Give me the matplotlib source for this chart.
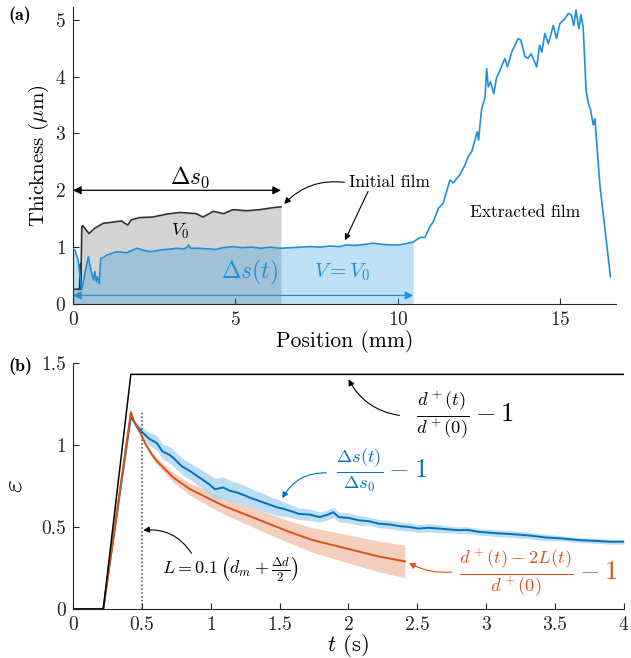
import matplotlib
matplotlib.use("Agg")
import matplotlib.pyplot as plt
import numpy as np

plt.rcParams["font.family"] = "serif"
plt.rcParams["font.serif"] = ["cmr10", "DejaVu Serif"]
plt.rcParams["mathtext.fontset"] = "cm"
plt.rcParams["axes.formatter.use_mathtext"] = True

# ---- panel (a): thickness profiles ----
film_x = [0.0, 0.06, 0.16, 0.27, 0.37, 0.47, 0.55, 0.63, 0.67, 0.72,
          0.75, 0.81, 0.85, 0.95, 1.03, 1.15, 1.34, 1.5, 1.65, 1.8,
          1.96, 2.15, 2.37, 2.5, 2.68, 2.9, 3.2, 3.4, 3.5, 3.56,
          3.62, 3.9, 4.15, 4.4, 4.6, 4.93, 5.2, 5.5, 5.8, 6.1,
          6.37, 6.7, 7.0, 7.3, 7.6, 7.9, 8.2, 8.42, 8.7, 9.0,
          9.23, 9.5, 9.75, 10.06, 10.3, 10.47, 10.68, 10.83, 10.98, 11.09,
          11.24, 11.39, 11.6, 11.7, 11.9, 12.06, 12.16, 12.27, 12.37, 12.44,
          12.48, 12.57, 12.68, 12.73, 12.78, 12.85, 12.95, 13.03, 13.14, 13.29,
          13.37, 13.5, 13.7, 13.78, 13.91, 14.0, 14.1, 14.27, 14.36, 14.43,
          14.52, 14.63, 14.78, 14.88, 14.98, 15.14, 15.24, 15.34, 15.41, 15.48,
          15.57, 15.63, 15.7, 15.79, 15.86, 15.93, 16.01, 16.06, 16.22, 16.54]
film_y = [0.97, 0.95, 0.77, 0.25, 0.55, 0.83, 0.60, 0.42, 0.57, 0.39,
          0.48, 0.36, 0.80, 0.82, 0.86, 0.88, 0.92, 0.91, 0.90, 0.94,
          0.98, 0.95, 0.92, 0.93, 0.95, 0.96, 0.98, 0.97, 0.99, 1.04,
          0.98, 0.98, 0.97, 0.96, 0.99, 1.01, 0.99, 1.00, 0.98, 1.00,
          0.98, 0.99, 1.00, 1.01, 1.00, 1.02, 1.01, 1.04, 1.03, 1.05,
          1.07, 1.05, 1.04, 1.04, 1.07, 1.09, 1.17, 1.17, 1.36, 1.45,
          1.68, 1.77, 2.18, 2.13, 2.27, 2.44, 2.59, 2.68, 2.88, 3.03,
          2.88, 3.41, 3.64, 4.14, 3.82, 3.91, 3.70, 3.97, 4.11, 4.32,
          4.17, 4.43, 4.67, 4.64, 4.35, 4.32, 4.40, 4.17, 4.55, 4.43,
          4.76, 4.58, 4.90, 4.67, 4.93, 5.02, 5.11, 5.08, 4.90, 5.17,
          4.84, 5.09, 4.87, 3.76, 3.53, 3.41, 3.15, 3.26, 2.06, 0.48]

init_x = [0.0, 0.2, 0.22, 0.24, 0.27, 0.3, 0.49, 0.66, 0.93, 1.1,
          1.34, 1.5, 1.59, 1.69, 1.79, 2.05, 2.46, 2.87, 3.28, 3.79,
          4.0, 4.32, 4.63, 4.93, 5.34, 5.75, 6.1, 6.4]
init_y = [0.26, 0.26, 0.70, 0.26, 1.36, 1.38, 1.24, 1.33, 1.42, 1.43,
          1.45, 1.46, 1.42, 1.39, 1.48, 1.52, 1.53, 1.58, 1.61, 1.59,
          1.53, 1.63, 1.59, 1.66, 1.64, 1.66, 1.69, 1.71]

ds0_end = 6.4
ds_end = 10.47

# ---- panel (b): strain vs time ----
black_t = [0, 0.22, 0.42, 4.0]
black_e = [0, 0, 1.43, 1.43]

blue_t = [0, 0.22, 0.42, 0.46, 0.50, 0.55, 0.61, 0.65, 0.70, 0.73,
          0.79, 0.85, 0.92, 0.99, 1.03, 1.09, 1.14, 1.19, 1.24, 1.28,
          1.33, 1.38, 1.43, 1.48, 1.53, 1.57, 1.64, 1.72, 1.79, 1.85,
          1.89, 1.93, 2.0, 2.08, 2.15, 2.22, 2.30, 2.37, 2.44, 2.51,
          2.58, 2.66, 2.73, 2.80, 2.86, 2.95, 3.07, 3.19, 3.31, 3.43,
          3.55, 3.67, 3.80, 3.90, 4.0]
blue_e = [0, 0, 1.17, 1.12, 1.08, 1.04, 1.01, 0.96, 0.94, 0.92,
          0.87, 0.84, 0.80, 0.76, 0.73, 0.74, 0.72, 0.71, 0.695, 0.68,
          0.665, 0.65, 0.635, 0.62, 0.61, 0.60, 0.58, 0.575, 0.56, 0.575,
          0.59, 0.56, 0.555, 0.54, 0.535, 0.52, 0.515, 0.505, 0.50, 0.49,
          0.495, 0.49, 0.485, 0.48, 0.482, 0.47, 0.462, 0.456, 0.448, 0.436,
          0.43, 0.42, 0.415, 0.41, 0.41]
blue_hw = [0, 0, 0, 0.02, 0.03, 0.04, 0.045, 0.045, 0.05, 0.05,
           0.05, 0.05, 0.055, 0.06, 0.065, 0.065, 0.065, 0.06, 0.06, 0.06,
           0.055, 0.055, 0.05, 0.05, 0.045, 0.04, 0.035, 0.035, 0.03, 0.03,
           0.03, 0.03, 0.03, 0.03, 0.025, 0.025, 0.025, 0.025, 0.025, 0.025,
           0.025, 0.025, 0.02, 0.02, 0.02, 0.02, 0.02, 0.02, 0.02, 0.02,
           0.015, 0.015, 0.015, 0.015, 0.015]

orange_t = [0, 0.22, 0.42, 0.45, 0.49, 0.53, 0.57, 0.61, 0.67, 0.73,
            0.85, 0.97, 1.09, 1.21, 1.33, 1.45, 1.57, 1.74, 1.98, 2.22, 2.41]
orange_e = [0, 0, 1.20, 1.13, 1.07, 1.00, 0.945, 0.90, 0.85, 0.80,
            0.73, 0.68, 0.63, 0.59, 0.55, 0.51, 0.47, 0.42, 0.37, 0.32, 0.29]
orange_hw = [0, 0, 0, 0.005, 0.01, 0.015, 0.018, 0.02, 0.025, 0.03,
             0.037, 0.044, 0.05, 0.055, 0.06, 0.064, 0.067, 0.075, 0.085, 0.093, 0.10]

L_t = 0.5
L_top = 1.2

b_xticks = [0, 0.5, 1, 1.5, 2, 2.5, 3, 3.5, 4]
b_xlabels = ["0", "0.5", "1", "1.5", "2", "2.5", "3", "3.5", "4"]
b_yticks = [0, 0.5, 1, 1.5]
b_ylabels = ["0", "0.5", "1", "1.5"]

film_blue = "#1f8fdc"
dark_blue = "#0072bd"
orange = "#d95319"
axcol = "#262626"


def style_axes(ax):
    for s in ["top", "right"]:
        ax.spines[s].set_visible(False)
    for s in ["left", "bottom"]:
        ax.spines[s].set_color(axcol)
        ax.spines[s].set_linewidth(0.8)
    ax.tick_params(direction="in", length=4, width=0.8, colors=axcol,
                   labelsize=14, labelcolor=axcol, pad=5)


fig = plt.figure(figsize=(6.31, 6.58), dpi=100)

# ================= (a) =================
ax1 = fig.add_axes([0.1157, 0.538, 0.860, 0.451])
fx = np.array(film_x)
fy = np.array(film_y)
ax1.fill_between(init_x, init_y, 0, color="#d3d3d3", lw=0, zorder=1)
m = fx <= ds_end
ax1.fill_between(fx[m], fy[m], 0, color="#3a9de0", alpha=0.32, lw=0, zorder=2)
ax1.plot(init_x, init_y, color="#333333", lw=1.2, zorder=3)
ax1.plot(film_x, film_y, color=film_blue, lw=1.2, zorder=4)

ax1.annotate("", xy=(0, 2.0), xytext=(ds0_end, 2.0),
             arrowprops=dict(arrowstyle="<|-|>", color="k", lw=0.9,
                             mutation_scale=12, shrinkA=0, shrinkB=0))
ax1.annotate("", xy=(0, 0.15), xytext=(ds_end, 0.15),
             arrowprops=dict(arrowstyle="<|-|>", color=film_blue, lw=0.9,
                             mutation_scale=12, shrinkA=0, shrinkB=0))
ax1.text(3.6, 2.22, r"$\Delta s_0$", fontsize=17, ha="center", va="center")
ax1.text(3.3, 1.28, r"$V_0$", fontsize=13, ha="center", va="center")
ax1.text(5.45, 0.55, r"$\Delta s(t)$", fontsize=17, ha="center", va="center",
         color=film_blue)
ax1.text(8.3, 0.55, r"$V = V_0$", fontsize=15, ha="center", va="center",
         color=film_blue)
ax1.text(9.75, 2.14, "Initial film", fontsize=12.5, ha="center", va="center")
ax1.text(13.9, 1.62, "Extracted film", fontsize=12.5, ha="center", va="center")
ax1.annotate("", xy=(6.5, 1.76), xytext=(8.35, 2.14),
             arrowprops=dict(arrowstyle="-|>", color="k", lw=0.8,
                             mutation_scale=9, shrinkA=0, shrinkB=0,
                             connectionstyle="arc3,rad=0.25"))
ax1.annotate("", xy=(8.37, 1.12), xytext=(9.08, 1.98),
             arrowprops=dict(arrowstyle="-|>", color="k", lw=0.8,
                             mutation_scale=9, shrinkA=0, shrinkB=0))

ax1.set_xlim(0, 16.7)
ax1.set_ylim(0, 5.22)
ax1.set_xticks([0, 5, 10, 15])
ax1.set_yticks([0, 1, 2, 3, 4, 5])
ax1.set_xlabel("Position (mm)", fontsize=15.5, labelpad=1)
ax1.set_ylabel(r"Thickness ($\mu$m)", fontsize=15, labelpad=3)
style_axes(ax1)

# ================= (b) =================
ax2 = fig.add_axes([0.1157, 0.0745, 0.873, 0.374])
bt = np.array(blue_t)
be = np.array(blue_e)
bh = np.array(blue_hw)
ot = np.array(orange_t)
oe = np.array(orange_e)
oh = np.array(orange_hw)
ax2.fill_between(ot, oe - oh, oe + oh, color="#f4c7b3", alpha=0.85, lw=0, zorder=1)
ax2.fill_between(bt, be - bh, be + bh, color="#a6d1ee", alpha=0.75, lw=0, zorder=2)
ax2.plot(black_t, black_e, color="k", lw=1.1, zorder=5)
ax2.plot(ot, oe, color=orange, lw=1.4, zorder=4)
ax2.plot(bt, be, color=dark_blue, lw=1.4, zorder=3)
ax2.plot([L_t, L_t], [0, L_top], color="#444444", lw=1.1, ls=(0, (1, 1.5)), zorder=3)

ax2.text(2.49, 1.18, r"$\frac{d^+(t)}{d^+(0)}-1$", fontsize=19, ha="left", va="center")
ax2.annotate("", xy=(2.0, 1.40), xytext=(2.37, 1.18),
             arrowprops=dict(arrowstyle="-|>", color="k", lw=0.8,
                             mutation_scale=9, shrinkA=0, shrinkB=0,
                             connectionstyle="arc3,rad=-0.25"))
ax2.text(1.91, 0.845, r"$\frac{\Delta s(t)}{\Delta s_0}-1$", fontsize=19,
         ha="left", va="center", color=dark_blue)
ax2.annotate("", xy=(1.52, 0.675), xytext=(1.84, 0.83),
             arrowprops=dict(arrowstyle="-|>", color=dark_blue, lw=0.8,
                             mutation_scale=9, shrinkA=0, shrinkB=0,
                             connectionstyle="arc3,rad=0.3"))
ax2.text(2.8, 0.22, r"$\frac{d^+(t)-2L(t)}{d^+(0)}-1$", fontsize=19,
         ha="left", va="center", color=orange)
ax2.annotate("", xy=(2.44, 0.28), xytext=(2.75, 0.225),
             arrowprops=dict(arrowstyle="-|>", color=orange, lw=0.8,
                             mutation_scale=9, shrinkA=0, shrinkB=0,
                             connectionstyle="arc3,rad=-0.15"))
ax2.text(1.14, 0.237, r"$L=0.1\,\left(d_m+\frac{\Delta d}{2}\right)$", fontsize=13,
         ha="center", va="center")
ax2.annotate("", xy=(0.51, 0.48), xytext=(0.86, 0.34),
             arrowprops=dict(arrowstyle="-|>", color="k", lw=0.8,
                             mutation_scale=9, shrinkA=0, shrinkB=0,
                             connectionstyle="arc3,rad=0.3"))

ax2.set_xlim(0, 4)
ax2.set_ylim(0, 1.5)
ax2.set_xticks(b_xticks)
ax2.set_xticklabels(b_xlabels)
ax2.set_yticks(b_yticks)
ax2.set_yticklabels(b_ylabels)
ax2.set_xlabel(r"$t$ (s)", fontsize=16.5, labelpad=-1)
ax2.set_ylabel(r"$\varepsilon$", fontsize=20, labelpad=10)
style_axes(ax2)

fig.text(0.032, 0.977, "(a)", fontsize=13, fontweight="bold",
         family=["cmb10", "DejaVu Serif"], ha="center", va="center")
fig.text(0.032, 0.444, "(b)", fontsize=13, fontweight="bold",
         family=["cmb10", "DejaVu Serif"], ha="center", va="center")

fig.savefig("out.png", dpi=100)
